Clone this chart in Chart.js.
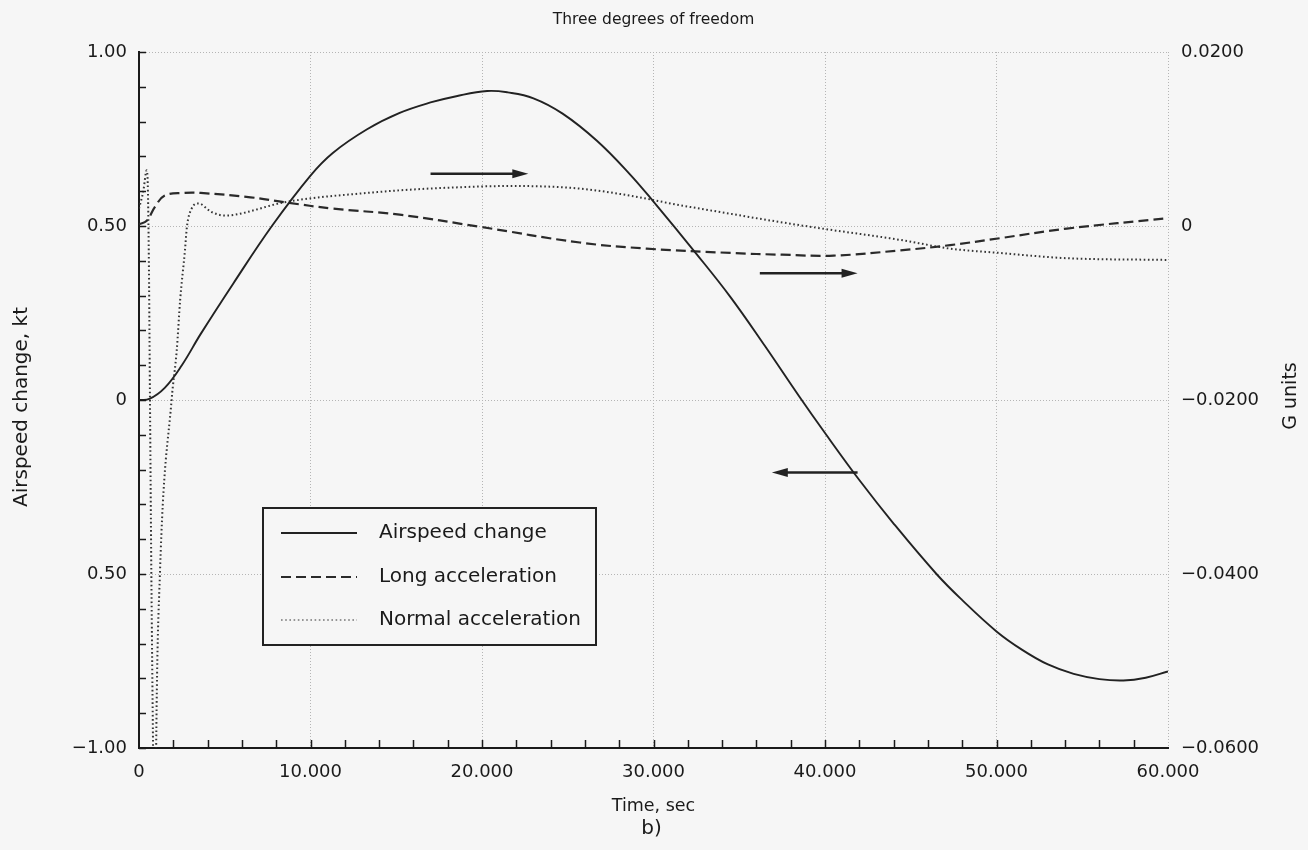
<!DOCTYPE html>
<html>
<head>
<meta charset="utf-8">
<script src="https://cdn.jsdelivr.net/npm/chart.js@4.4.1/dist/chart.umd.min.js"></script>
<style>
html,body{margin:0;padding:0;background:#f6f6f6;}
#wrap{width:1308px;height:850px;position:relative;}
canvas{display:block;}
</style>
</head>
<body>
<div id="wrap"><canvas id="c" width="1308" height="850"></canvas></div>
<script>
// ---- data ----
const chartTitle = 'Three degrees of freedom';
const xTitle = 'Time, sec';
const subLabel = 'b)';
const leftTitle = 'Airspeed change, kt';
const rightTitle = 'G units';
const seriesNames = ['Airspeed change', 'Long acceleration', 'Normal acceleration'];

// Airspeed change, kt (left axis)
const airTime   = [0, 0.6, 1.5, 2.5, 3.6, 5.5, 7.75, 10, 11.3, 13.3, 15.2, 17, 18.5, 20.3, 21.5, 23, 24.7, 26.7, 28.6, 30, 32.5, 34.5, 36.5, 38.5, 40, 42, 44, 46.5, 48, 50, 51.5, 53, 54.5, 56, 57.4, 58.7, 60];
const airValues = [0, 0.003, 0.035, 0.1, 0.19, 0.335, 0.5, 0.645, 0.71, 0.778, 0.825, 0.855, 0.873, 0.888, 0.884, 0.867, 0.823, 0.745, 0.65, 0.57, 0.42, 0.295, 0.155, 0.01, -0.095, -0.23, -0.355, -0.5, -0.575, -0.665, -0.718, -0.76, -0.787, -0.802, -0.806, -0.798, -0.78];

// Long acceleration, G (right axis)
const longTime   = [0, 0.45, 0.93, 1.5, 2.6, 3.6, 6.5, 8.6, 11.3, 15.2, 19.9, 25.7, 29.6, 34.5, 37.5, 40.5, 44.4, 47.3, 50.2, 54.1, 60];
const longValues = [0.0002, 0.0006, 0.0022, 0.0035, 0.0038, 0.0038, 0.0033, 0.0027, 0.002, 0.0013, -0.0001, -0.0019, -0.0026, -0.0031, -0.0033, -0.0034, -0.0028, -0.0022, -0.0014, -0.0003, 0.0009];

// Normal acceleration, G (right axis)
const normTime   = [0, 0.25, 0.45, 0.52, 0.58, 0.64, 0.72, 0.82, 0.9, 0.95, 1.0, 1.22, 1.9, 2.2, 2.4, 2.68, 2.8, 3.07, 3.45, 4.24, 5.0, 5.6, 8.4, 10.1, 13.3, 15.2, 18, 21.8, 25.7, 28.6, 31.5, 32.7, 34.5, 36.6, 39.5, 44.4, 47.3, 50.2, 54.1, 60];
const normValues = [0.002, 0.004, 0.0064, 0.004, -0.005, -0.02, -0.04, -0.06, -0.075, -0.075, -0.06, -0.04, -0.02, -0.0143, -0.0085, -0.0028, 0, 0.002, 0.0026, 0.0016, 0.0012, 0.0013, 0.0027, 0.0032, 0.0038, 0.0041, 0.0044, 0.0046, 0.0043, 0.0035, 0.0024, 0.002, 0.0014, 0.0007, -0.0002, -0.0016, -0.0026, -0.0031, -0.0037, -0.0039];

// tick labels (as printed in the reference)
const xTickValues = [0, 10, 20, 30, 40, 50, 60];
const xTickLabels = ['0', '10.000', '20.000', '30.000', '40.000', '50.000', '60.000'];
const leftTickValues = [1, 0.5, 0, -0.5, -1];
const leftTickLabels = ['1.00', '0.50', '0', '0.50', '\u22121.00'];
const rightTickValues = [0.02, 0, -0.02, -0.04, -0.06];
const rightTickLabels = ['0.0200', '0', '\u22120.0200', '\u22120.0400', '\u22120.0600'];

// annotation arrows: [t, airspeed] start and end (left-axis units)
const arrowStartT = [17.0, 36.2, 41.9];
const arrowEndT   = [22.7, 41.9, 36.9];
const arrowLevel  = [0.65, 0.364, -0.208];

// ---- chart ----
const FONT = '"DejaVu Sans", Verdana, sans-serif';
const INK = '#1a1a1a';

function pts(xs, ys) { return xs.map((x, i) => ({x: x, y: ys[i]})); }
function labelFor(vals, labs, v, eps) {
  for (let i = 0; i < vals.length; i++) if (Math.abs(vals[i] - v) < eps) return labs[i];
  return '';
}

const decor = {
  id: 'decor',
  beforeDraw(chart) {
    const ctx = chart.ctx;
    ctx.save();
    ctx.fillStyle = '#f6f6f6';
    ctx.fillRect(0, 0, chart.width, chart.height);
    ctx.restore();
  },
  afterDraw(chart) {
    const ctx = chart.ctx;
    const a = chart.chartArea;
    const xs = chart.scales.x, ys = chart.scales.y;
    ctx.save();
    // inward tick marks
    ctx.strokeStyle = INK;
    ctx.lineWidth = 1.5;
    ctx.beginPath();
    ys.ticks.forEach(t => {
      const y = Math.round(ys.getPixelForValue(t.value)) + 0.5;
      ctx.moveTo(a.left, y); ctx.lineTo(a.left + 7, y);
    });
    xs.ticks.forEach(t => {
      if (t.value <= 0 || t.value >= 60) return;
      const x = Math.round(xs.getPixelForValue(t.value)) + 0.5;
      ctx.moveTo(x, a.bottom); ctx.lineTo(x, a.bottom - 8);
    });
    ctx.stroke();

    // arrows
    ctx.strokeStyle = '#222';
    ctx.fillStyle = '#222';
    ctx.lineWidth = 2.5;
    for (let i = 0; i < arrowLevel.length; i++) {
      const x1 = xs.getPixelForValue(arrowStartT[i]);
      const x2 = xs.getPixelForValue(arrowEndT[i]);
      const y = ys.getPixelForValue(arrowLevel[i]);
      const dir = x2 > x1 ? 1 : -1;
      ctx.beginPath();
      ctx.moveTo(x1, y); ctx.lineTo(x2 - dir * 10, y);
      ctx.stroke();
      ctx.beginPath();
      ctx.moveTo(x2, y);
      ctx.lineTo(x2 - dir * 16, y - 4.5);
      ctx.lineTo(x2 - dir * 16, y + 4.5);
      ctx.closePath();
      ctx.fill();
    }

    // legend box
    const bx = 263, by = 508, bw = 333, bh = 137;
    ctx.fillStyle = '#f6f6f6';
    ctx.fillRect(bx, by, bw, bh);
    ctx.strokeStyle = '#222';
    ctx.lineWidth = 2;
    ctx.setLineDash([]);
    ctx.strokeRect(bx, by, bw, bh);
    const rowY = [533, 577, 620];
    ctx.font = '20px ' + FONT;
    ctx.textBaseline = 'middle';
    ctx.textAlign = 'left';
    chart.data.datasets.forEach((ds, i) => {
      ctx.save();
      ctx.strokeStyle = ds.borderColor;
      ctx.lineWidth = i === 2 ? 1.2 : ds.borderWidth;
      ctx.setLineDash(ds.borderDash || []);
      ctx.beginPath();
      ctx.moveTo(281, rowY[i]); ctx.lineTo(357, rowY[i]);
      ctx.stroke();
      ctx.restore();
      ctx.fillStyle = INK;
      ctx.fillText(ds.label, 379, rowY[i]);
    });

    // texts
    ctx.fillStyle = INK;
    ctx.textAlign = 'center';
    ctx.font = '15.5px ' + FONT;
    ctx.fillText(chartTitle, (a.left + a.right) / 2, 20);
    ctx.font = '17.5px ' + FONT;
    ctx.fillText(xTitle, (a.left + a.right) / 2, 806);
    ctx.font = '20px ' + FONT;
    ctx.fillText(subLabel, (a.left + a.right) / 2 - 2, 829);
    ctx.font = '20px ' + FONT;
    ctx.save();
    ctx.translate(22, 407);
    ctx.rotate(-Math.PI / 2);
    ctx.fillText(leftTitle, 0, 0);
    ctx.restore();
    ctx.font = '19px ' + FONT;
    ctx.save();
    ctx.translate(1291, 396);
    ctx.rotate(-Math.PI / 2);
    ctx.fillText(rightTitle, 0, 0);
    ctx.restore();
    ctx.restore();
  }
};

new Chart(document.getElementById('c'), {
  type: 'line',
  data: {
    datasets: [
      {label: seriesNames[0], data: pts(airTime, airValues), yAxisID: 'y',
       borderColor: '#222222', borderWidth: 1.9, borderDash: [],
       tension: 0.4, pointRadius: 0},
      {label: seriesNames[1], data: pts(longTime, longValues), yAxisID: 'y2',
       borderColor: '#2a2a2a', borderWidth: 2.2, borderDash: [10, 5],
       tension: 0.4, pointRadius: 0},
      {label: seriesNames[2], data: pts(normTime, normValues), yAxisID: 'y2',
       borderColor: '#353535', borderWidth: 2, borderDash: [1.6, 2.6],
       cubicInterpolationMode: 'monotone', pointRadius: 0}
    ]
  },
  options: {
    responsive: false,
    devicePixelRatio: 1,
    animation: false,
    layout: {padding: {top: 52, left: 0, right: 0, bottom: 0}},
    plugins: {legend: {display: false}, tooltip: {enabled: false}, title: {display: false}},
    scales: {
      x: {
        type: 'linear', min: 0, max: 60,
        afterFit(s) { s.height = 102; },
        ticks: {
          stepSize: 2, autoSkip: false, maxRotation: 0, padding: 14,
          color: INK, font: {family: FONT, size: 18},
          callback: v => labelFor(xTickValues, xTickLabels, v, 1e-6)
        },
        grid: {
          drawTicks: false, lineWidth: 1,
          color: c => {
            const v = c.tick ? c.tick.value : 0;
            return (v > 0 && Math.abs(v / 10 - Math.round(v / 10)) < 1e-6) ? '#b5b5b5' : 'rgba(0,0,0,0)';
          }
        },
        border: {display: true, color: INK, width: 2, dash: [1, 2]}
      },
      y: {
        type: 'linear', position: 'left', min: -1, max: 1,
        afterFit(s) { s.width = 139; },
        ticks: {
          stepSize: 0.1, autoSkip: false, padding: 12,
          color: INK, font: {family: FONT, size: 18},
          callback: v => labelFor(leftTickValues, leftTickLabels, v, 1e-6)
        },
        grid: {
          drawTicks: false, lineWidth: 1,
          color: c => {
            const v = c.tick ? c.tick.value : 0;
            return (v > -0.99 && Math.abs(v * 2 - Math.round(v * 2)) < 1e-6) ? '#b5b5b5' : 'rgba(0,0,0,0)';
          }
        },
        border: {display: true, color: INK, width: 2, dash: [1, 2]}
      },
      y2: {
        type: 'linear', position: 'right', min: -0.06, max: 0.02,
        afterFit(s) { s.width = 140; },
        ticks: {
          stepSize: 0.02, autoSkip: false, padding: 13,
          color: INK, font: {family: FONT, size: 18},
          callback: v => labelFor(rightTickValues, rightTickLabels, v, 1e-7)
        },
        grid: {display: false, drawTicks: false},
        border: {display: false}
      }
    }
  },
  plugins: [decor]
});
</script>
</body>
</html>
